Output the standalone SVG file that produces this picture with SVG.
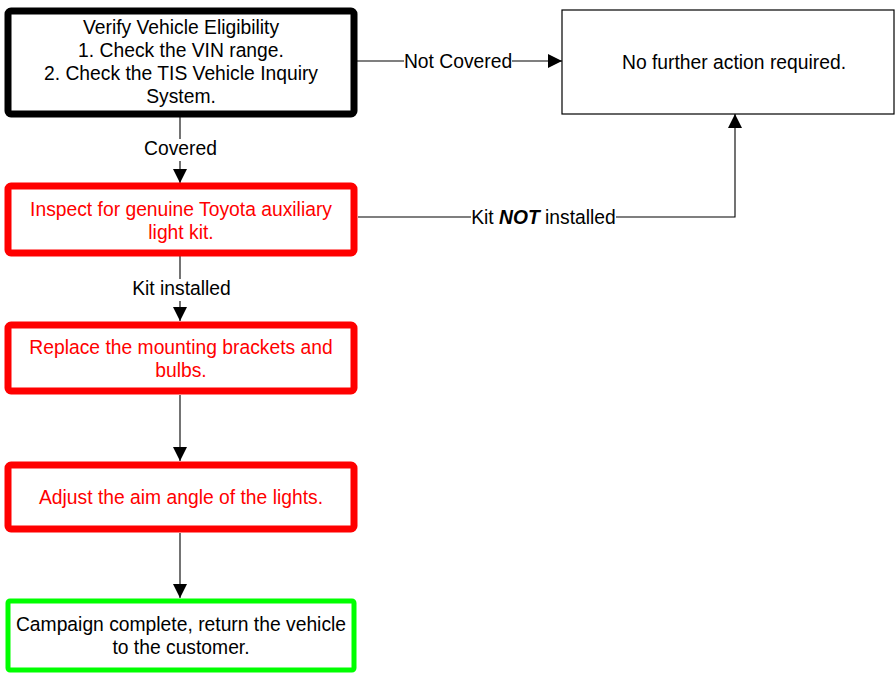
<svg xmlns="http://www.w3.org/2000/svg" width="896" height="673" viewBox="0 0 896 673">
<defs>
<style>
text{font-family:"Liberation Sans",Arial,sans-serif;font-size:19.3px;text-anchor:middle}
.red{fill:#FF0000}
.blk{fill:#000}
.box{fill:#fff}
.conn{stroke:#000;stroke-width:1.1;fill:none}
.lbl{fill:#fff;stroke:none}
</style>
<marker id="arr" viewBox="0 0 10 10" refX="10" refY="5" markerWidth="15" markerHeight="14" markerUnits="userSpaceOnUse" orient="auto">
<path d="M0,0 L10,5 L0,10 z" fill="#000"/>
</marker>
</defs>
<rect width="896" height="673" fill="#fff"/>
<g id="connectors">
<path class="conn" d="M180,117 V183" marker-end="url(#arr)"/>
<rect class="lbl" x="144" y="139" width="73" height="22"/>
<text x="180.5" y="155" class="blk">Covered</text>
<path class="conn" d="M357,61 H562" marker-end="url(#arr)"/>
<rect class="lbl" x="404" y="52" width="108" height="22"/>
<text x="458" y="68" class="blk">Not Covered</text>
<path class="conn" d="M358,217 H735 V114" marker-end="url(#arr)"/>
<rect class="lbl" x="471" y="208" width="145" height="22"/>
<text x="543.5" y="224" class="blk">Kit <tspan font-weight="bold" font-style="italic">NOT</tspan> installed</text>
<path class="conn" d="M180,256 V321" marker-end="url(#arr)"/>
<rect class="lbl" x="132" y="279" width="99" height="22"/>
<text x="181.5" y="295" class="blk">Kit installed</text>
<path class="conn" d="M180,395 V461" marker-end="url(#arr)"/>
<path class="conn" d="M180,533 V598" marker-end="url(#arr)"/>
</g>
<g id="verify">
<rect class="box" x="8" y="11" width="346" height="103" rx="3" stroke="#000" stroke-width="7"/>
<text x="181" y="34" class="blk">Verify Vehicle Eligibility</text>
<text x="181" y="57" class="blk">1. Check the VIN range.</text>
<text x="181" y="80" class="blk">2. Check the TIS Vehicle Inquiry</text>
<text x="181" y="103" class="blk">System.</text>
</g>
<g id="nofurther">
<rect class="box" x="562" y="10" width="332" height="104" stroke="#000" stroke-width="1.2"/>
<text x="734" y="69" class="blk">No further action required.</text>
</g>
<g id="inspect">
<rect class="box" x="8" y="186" width="346" height="67" rx="3" stroke="#FF0000" stroke-width="7"/>
<text x="181" y="216" class="red">Inspect for genuine Toyota auxiliary</text>
<text x="181" y="239" class="red">light kit.</text>
</g>
<g id="replace">
<rect class="box" x="8" y="325" width="346" height="66" rx="3" stroke="#FF0000" stroke-width="7"/>
<text x="181" y="354" class="red">Replace the mounting brackets and</text>
<text x="181" y="377" class="red">bulbs.</text>
</g>
<g id="adjust">
<rect class="box" x="8" y="465" width="346" height="64" rx="3" stroke="#FF0000" stroke-width="7"/>
<text x="181" y="504" class="red">Adjust the aim angle of the lights.</text>
</g>
<g id="complete">
<rect class="box" x="8" y="601" width="346" height="69" rx="2" stroke="#00FF00" stroke-width="5"/>
<text x="181" y="631" class="blk">Campaign complete, return the vehicle</text>
<text x="181" y="654" class="blk">to the customer.</text>
</g>
</svg>
